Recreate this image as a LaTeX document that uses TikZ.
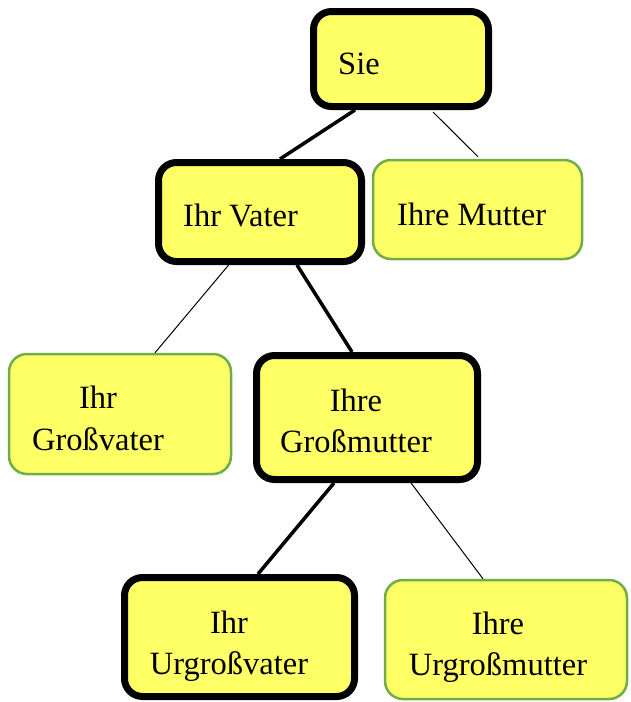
\documentclass[tikz,border=0pt]{standalone}
\usepackage{fontspec}
\setmainfont{Liberation Serif}
\definecolor{boxyellow}{HTML}{FFFF66}
\definecolor{boxgreen}{HTML}{70AD47}
\tikzset{
  mainbox/.style={draw=black, line width=7pt, fill=boxyellow, rounded corners=18pt, inner sep=0pt},
  sidebox/.style={draw=boxgreen, line width=2.5pt, fill=boxyellow, rounded corners=18pt, inner sep=0pt},
  thickline/.style={line width=3.5pt, black},
  thinline/.style={line width=1pt, black},
  lbl/.style={inner sep=0pt, font=\fontsize{32.5}{41}\selectfont},
}
\begin{document}
\begin{tikzpicture}[x=1pt, y=-1pt]
\useasboundingbox (0,0) rectangle (630,702);
% boxes
\node[mainbox, minimum width=175pt, minimum height=95pt] (sie) at (401,59) {};
\node[mainbox, minimum width=203pt, minimum height=99pt] (vater) at (260,212) {};
\node[sidebox, minimum width=209pt, minimum height=99pt] (mutter) at (477.5,209.5) {};
\node[sidebox, minimum width=222pt, minimum height=120pt] (gv) at (120,414) {};
\node[mainbox, minimum width=221pt, minimum height=124pt] (gm) at (367,417.5) {};
\node[mainbox, minimum width=230pt, minimum height=119pt] (ugv) at (239.5,637) {};
\node[sidebox, minimum width=242pt, minimum height=119pt] (ugm) at (506,639.5) {};
% connectors
\draw[thickline] ([xshift=-46pt]sie.south) -- ([xshift=20pt]vater.north);
\draw[thinline] ([xshift=32pt,yshift=-2pt]sie.south) -- ([xshift=0.5pt,yshift=2pt]mutter.north);
\draw[thinline] ([xshift=-28pt,yshift=4pt]vater.south) -- ([xshift=35pt]gv.north);
\draw[thickline] ([xshift=37pt]vater.south) -- ([xshift=-15pt]gm.north);
\draw[thickline] ([xshift=-33pt]gm.south) -- ([xshift=18.5pt]ugv.north);
\draw[thinline] ([xshift=41pt,yshift=4pt]gm.south) -- ([xshift=-23pt]ugm.north);
% labels
\node[lbl, anchor=base west] (tsie) at (338,74) {Sie};
\node[lbl, anchor=base west] (tvater) at (183,226) {Ihr Vater};
\node[lbl, anchor=base west] (tmutter) at (397,225) {Ihre Mutter};
\node[lbl, anchor=base] (tgv1) at (98,408) {Ihr};
\node[lbl, anchor=base] (tgv2) at (98,450) {Großvater};
\node[lbl, anchor=base] (tgm1) at (356,411.5) {Ihre};
\node[lbl, anchor=base] (tgm2) at (356,452.5) {Großmutter};
\node[lbl, anchor=base] (tugv1) at (229,633) {Ihr};
\node[lbl, anchor=base] (tugv2) at (229,674) {Urgroßvater};
\node[lbl, anchor=base] (tugm1) at (498,634) {Ihre};
\node[lbl, anchor=base] (tugm2) at (498,675.5) {Urgroßmutter};
\end{tikzpicture}
\end{document}
